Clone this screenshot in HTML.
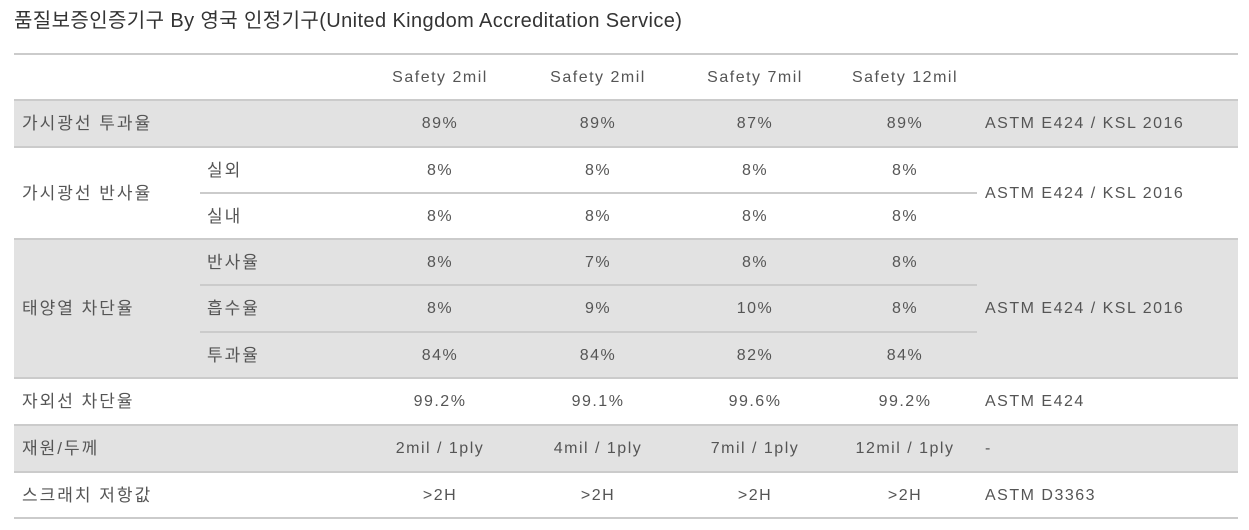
<!DOCTYPE html>
<html><head><meta charset="utf-8">
<style>
body{margin:0;width:1249px;height:530px;background:#fff;position:relative;overflow:hidden;font-family:"Liberation Sans","Noto Sans CJK KR","NanumGothic",sans-serif;}
.bg{position:absolute;left:14px;width:1224px;background:#e2e2e2;}
.ln{position:absolute;left:14px;width:1224px;height:2px;background:#cbcbcb;}
.sl{position:absolute;left:200px;width:777px;height:2px;background:#cbcbcb;}
.t{position:absolute;font-size:16px;color:#555;line-height:20px;white-space:nowrap;transform:translateY(-50%);letter-spacing:1.5px;margin-top:1px;}
.k{font-size:17px;letter-spacing:2px;}
.c{transform:translate(-50%,-50%);}
</style></head><body>
<div style="position:absolute;left:14px;top:9px;font-size:20px;letter-spacing:0.4px;color:#333;line-height:24px;white-space:nowrap;">품질보증인증기구 By 영국 인정기구(United Kingdom Accreditation Service)</div>

<div class="bg" style="top:100px;height:47px"></div>
<div class="bg" style="top:239px;height:139px"></div>
<div class="bg" style="top:425px;height:47px"></div>

<div class="ln" style="top:53px"></div>
<div class="ln" style="top:99px"></div>
<div class="ln" style="top:146px"></div>
<div class="ln" style="top:238px"></div>
<div class="ln" style="top:377px"></div>
<div class="ln" style="top:424px"></div>
<div class="ln" style="top:471px"></div>
<div class="ln" style="top:517px"></div>
<div class="sl" style="top:192px"></div>
<div class="sl" style="top:284px"></div>
<div class="sl" style="top:331px"></div>

<div class="t c" style="left:440px;top:77px">Safety 2mil</div>
<div class="t c" style="left:598px;top:77px">Safety 2mil</div>
<div class="t c" style="left:755px;top:77px">Safety 7mil</div>
<div class="t c" style="left:905px;top:77px">Safety 12mil</div>

<div class="t k" style="left:22px;top:123px">가시광선 투과율</div>
<div class="t c" style="left:440px;top:123px">89%</div>
<div class="t c" style="left:598px;top:123px">89%</div>
<div class="t c" style="left:755px;top:123px">87%</div>
<div class="t c" style="left:905px;top:123px">89%</div>
<div class="t" style="left:985px;top:123px">ASTM E424 / KSL 2016</div>

<div class="t k" style="left:22px;top:193px">가시광선 반사율</div>
<div class="t k" style="left:207px;top:170px">실외</div>
<div class="t k" style="left:207px;top:216px">실내</div>
<div class="t c" style="left:440px;top:170px">8%</div>
<div class="t c" style="left:598px;top:170px">8%</div>
<div class="t c" style="left:755px;top:170px">8%</div>
<div class="t c" style="left:905px;top:170px">8%</div>
<div class="t c" style="left:440px;top:216px">8%</div>
<div class="t c" style="left:598px;top:216px">8%</div>
<div class="t c" style="left:755px;top:216px">8%</div>
<div class="t c" style="left:905px;top:216px">8%</div>
<div class="t" style="left:985px;top:193px">ASTM E424 / KSL 2016</div>

<div class="t k" style="left:22px;top:308px">태양열 차단율</div>
<div class="t k" style="left:207px;top:262px">반사율</div>
<div class="t k" style="left:207px;top:308px">흡수율</div>
<div class="t k" style="left:207px;top:355px">투과율</div>
<div class="t c" style="left:440px;top:262px">8%</div>
<div class="t c" style="left:598px;top:262px">7%</div>
<div class="t c" style="left:755px;top:262px">8%</div>
<div class="t c" style="left:905px;top:262px">8%</div>
<div class="t c" style="left:440px;top:308px">8%</div>
<div class="t c" style="left:598px;top:308px">9%</div>
<div class="t c" style="left:755px;top:308px">10%</div>
<div class="t c" style="left:905px;top:308px">8%</div>
<div class="t c" style="left:440px;top:355px">84%</div>
<div class="t c" style="left:598px;top:355px">84%</div>
<div class="t c" style="left:755px;top:355px">82%</div>
<div class="t c" style="left:905px;top:355px">84%</div>
<div class="t" style="left:985px;top:308px">ASTM E424 / KSL 2016</div>

<div class="t k" style="left:22px;top:401px">자외선 차단율</div>
<div class="t c" style="left:440px;top:401px">99.2%</div>
<div class="t c" style="left:598px;top:401px">99.1%</div>
<div class="t c" style="left:755px;top:401px">99.6%</div>
<div class="t c" style="left:905px;top:401px">99.2%</div>
<div class="t" style="left:985px;top:401px">ASTM E424</div>

<div class="t k" style="left:22px;top:448px">재원/두께</div>
<div class="t c" style="left:440px;top:448px">2mil / 1ply</div>
<div class="t c" style="left:598px;top:448px">4mil / 1ply</div>
<div class="t c" style="left:755px;top:448px">7mil / 1ply</div>
<div class="t c" style="left:905px;top:448px">12mil / 1ply</div>
<div class="t" style="left:985px;top:448px">-</div>

<div class="t k" style="left:22px;top:495px">스크래치 저항값</div>
<div class="t c" style="left:440px;top:495px">&gt;2H</div>
<div class="t c" style="left:598px;top:495px">&gt;2H</div>
<div class="t c" style="left:755px;top:495px">&gt;2H</div>
<div class="t c" style="left:905px;top:495px">&gt;2H</div>
<div class="t" style="left:985px;top:495px">ASTM D3363</div>
</body></html>
